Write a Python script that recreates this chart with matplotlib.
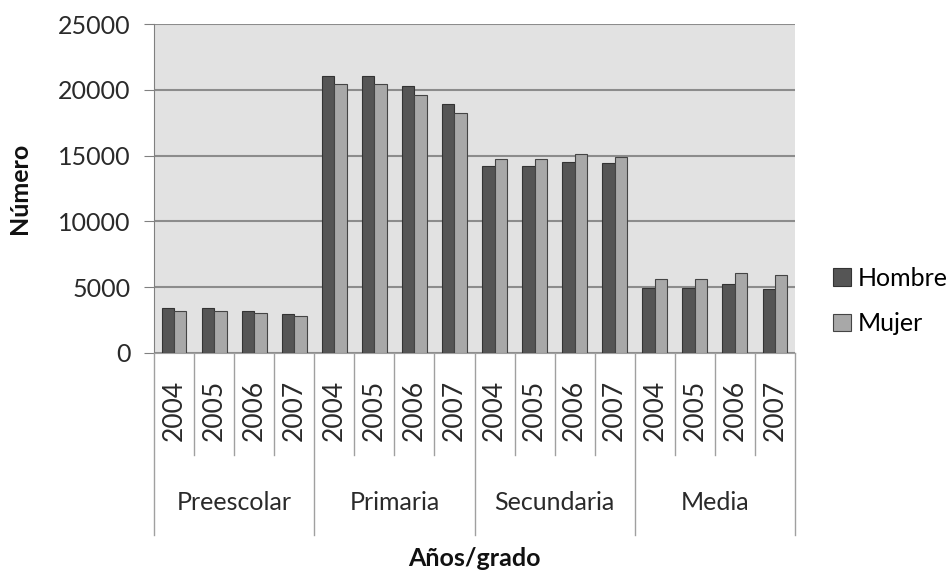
import matplotlib
matplotlib.use('Agg')
import matplotlib.pyplot as plt
import numpy as np

plt.rcParams['font.family'] = ['Lato', 'DejaVu Sans']

groups = ["Preescolar", "Primaria", "Secundaria", "Media"]
years = ["2004", "2005", "2006", "2007"]
hombre = [3440, 3440, 3215, 2940, 21050, 21050, 20315, 18950,
          14235, 14235, 14540, 14465, 4965, 4965, 5245, 4840]
mujer = [3215, 3215, 3040, 2835, 20420, 20420, 19600, 18215,
         14720, 14720, 15150, 14870, 5625, 5625, 6055, 5950]

n = len(groups) * len(years)
x = np.arange(n)
width = 0.31

fig = plt.figure(figsize=(9.5, 5.7), dpi=100)
ax = fig.add_axes([154/950, 1-353/570, 641/950, 329/570])
ax.set_facecolor("#e2e2e2")

ax.bar(x - width/2, hombre, width, color="#555555", edgecolor="#333333", linewidth=0.8, label="Hombre", zorder=3)
ax.bar(x + width/2, mujer, width, color="#a8a8a8", edgecolor="#444444", linewidth=0.8, label="Mujer", zorder=3)

ax.set_xlim(-0.5, n - 0.5)
ax.set_ylim(0, 25000)
ax.set_yticks(np.arange(0, 25001, 5000))
ax.yaxis.grid(True, color="#8c8c8c", linewidth=1.5, zorder=1)
ax.set_axisbelow(True)
ax.tick_params(axis='y', labelsize=18, length=7, color="#808080", pad=10, labelcolor="#2a2a2a")

# year labels (first level of the category axis)
ax.set_xticks(x)
ax.set_xticklabels(years * len(groups), rotation=90, fontsize=19, color="#2a2a2a")
ax.tick_params(axis='x', length=0, pad=19)

for s in ["top", "right"]:
    ax.spines[s].set_visible(False)
ax.spines["left"].set_color("#808080")
ax.spines["bottom"].set_color("#a0a0a0")

# separator lines below the axis
trans = ax.get_xaxis_transform()
for k in range(n + 1):
    if k % len(years) == 0:
        ybot = -182/329
    else:
        ybot = -102/329
    ax.plot([k - 0.5, k - 0.5], [0, ybot], transform=trans, color="#a0a0a0", linewidth=1, clip_on=False)

# group labels (second level)
for i, g in enumerate(groups):
    xc = i * len(years) + (len(years) - 1) / 2
    ax.text(xc, -149/329, g, transform=trans, ha='center', va='center', fontsize=18, color="#2a2a2a")

ax.text((n - 1) / 2, -205/329, "Años/grado", transform=trans, ha='center', va='center',
        fontsize=18, fontweight='bold', color="#111111")
ax.set_ylabel("Número", fontsize=18, fontweight='bold', labelpad=19, color="#111111")

fig.legend(loc='center left', bbox_to_anchor=(833/950, 1-301/570), frameon=False,
           fontsize=18, handlelength=0.7, handleheight=0.7, handletextpad=0.3,
           labelspacing=0.9, borderpad=0, borderaxespad=0)

plt.savefig("out.png", dpi=100)
